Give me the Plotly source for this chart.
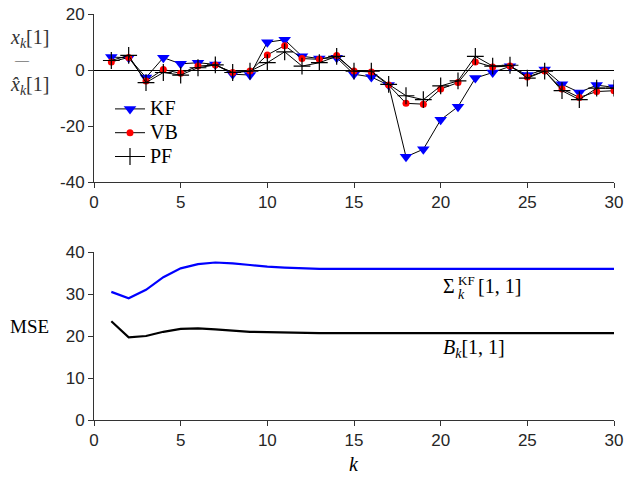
import plotly.graph_objects as go

k = list(range(1, 31))
kf = [4.6, 4.4, -2.7, 4.4, 2.2, 2.6, 2.0, -1.5, -1.8, 9.9, 10.8, 4.9, 4.1, 4.4, -1.5, -2.5, -5.4, -31.0, -28.3, -17.8, -13.1, -2.9, -0.9, 1.3, -1.8, 0.2, -5.1, -8.0, -5.4, -6.2]
vb = [2.9, 4.5, -3.9, 0.2, -1.2, 1.4, 1.8, -0.9, -0.4, 5.4, 8.7, 4.1, 3.8, 5.2, -0.4, -0.7, -5.4, -11.9, -12.2, -6.8, -4.5, 2.9, 1.1, 1.4, -2.5, -0.4, -6.8, -9.8, -7.7, -7.4]
pf = [3.4, 5.2, -4.5, -0.9, -1.8, 0.8, 1.8, -0.9, -0.4, 2.6, 6.5, 1.4, 2.6, 4.9, -0.4, -0.4, -5.1, -9.2, -10.6, -5.7, -3.9, 4.9, 1.4, 1.7, -2.9, -0.4, -7.4, -10.6, -6.5, -6.5]

sigma_kf = [30.5, 29.0, 31.0, 34.0, 36.1, 37.1, 37.5, 37.3, 36.9, 36.5, 36.3, 36.1, 36.0, 36.0, 36.0, 36.0, 36.0, 36.0, 36.0, 36.0, 36.0, 36.0, 36.0, 36.0, 36.0, 36.0, 36.0, 36.0, 36.0, 36.0]
b_k = [23.5, 19.7, 20.0, 21.0, 21.7, 21.8, 21.6, 21.3, 21.0, 20.9, 20.8, 20.7, 20.7, 20.7, 20.7, 20.7, 20.7, 20.7, 20.7, 20.7, 20.7, 20.7, 20.7, 20.7, 20.7, 20.7, 20.7, 20.7, 20.7, 20.7]

x_ticks = [0, 5, 10, 15, 20, 25, 30]
top_y_ticks = [-40, -20, 0, 20]
bot_y_ticks = [0, 10, 20, 30, 40]

W, H = 626, 478
def px(x):
    return x / W
def py(y):
    return 1 - y / H

def big(s):
    return '<span style="font-size:20px">' + s + '</span>'

fig = go.Figure()
fig.add_trace(go.Scatter(x=k, y=kf, name=big("KF"), mode="lines+markers",
                         line=dict(color="black", width=1),
                         marker=dict(symbol="triangle-down", size=11, color="#0000ff"),
                         xaxis="x", yaxis="y"))
fig.add_trace(go.Scatter(x=k, y=vb, name=big("VB"), mode="lines+markers",
                         line=dict(color="black", width=1),
                         marker=dict(symbol="circle", size=7, color="#ff0000"),
                         xaxis="x", yaxis="y"))
fig.add_trace(go.Scatter(x=k, y=pf, name=big("PF"), mode="lines+markers",
                         line=dict(color="black", width=1),
                         marker=dict(symbol="cross-thin", size=12, color="black",
                                     line=dict(color="black", width=1.2)),
                         xaxis="x", yaxis="y"))
fig.add_trace(go.Scatter(x=k, y=sigma_kf, mode="lines", showlegend=False,
                         line=dict(color="#0000ff", width=2.2), xaxis="x2", yaxis="y2"))
fig.add_trace(go.Scatter(x=k, y=b_k, mode="lines", showlegend=False,
                         line=dict(color="black", width=2.2), xaxis="x2", yaxis="y2"))

axis_common = dict(showline=True, linecolor="#333333", linewidth=1, ticks="outside",
                   ticklen=5, tickcolor="#333333", showgrid=False, automargin=False,
                   ticklabeloverflow="allow",
                   tickfont=dict(family="Liberation Sans, Arial", size=17, color="#262626"))

xdom = [px(94), px(614)]
fig.update_layout(
    width=W, height=H, margin=dict(l=0, r=0, t=0, b=0),
    paper_bgcolor="white", plot_bgcolor="white",
    xaxis=dict(domain=xdom, range=[0, 30], tickvals=x_ticks, anchor="y", **axis_common),
    yaxis=dict(domain=[py(182), py(14)], range=[-40, 20], tickvals=top_y_ticks,
               ticktext=[str(v) for v in top_y_ticks], anchor="x",
               zeroline=True, zerolinecolor="black", zerolinewidth=1, **axis_common),
    xaxis2=dict(domain=xdom, range=[0, 30], tickvals=x_ticks, anchor="y2", **axis_common),
    yaxis2=dict(domain=[py(420), py(252)], range=[0, 40], tickvals=bot_y_ticks,
                anchor="x2", zeroline=False, **axis_common),
    legend=dict(x=px(110), y=py(92), xanchor="left", yanchor="top",
                bgcolor="rgba(0,0,0,0)", tracegroupgap=0, itemwidth=30,
                font=dict(family="Liberation Serif, Times New Roman", size=16, color="black")),
    showlegend=True,
)

serif = "Liberation Serif, Times New Roman"
def ann(x, y, text, size=20, xanchor="center", color="black"):
    fig.add_annotation(x=px(x), y=py(y), xref="paper", yref="paper", text=text,
                       showarrow=False, xanchor=xanchor, yanchor="middle",
                       font=dict(family=serif, size=size, color=color))

# top y-label (stacked fraction-like)
ann(29, 38, "<i>x</i><sub><i>k</i></sub>[1]", color="#333333")
ann(22, 61, "—", size=14, color="#333333")
ann(29, 86, "<i>x̂</i><sub><i>k</i></sub>[1]", color="#333333")
# bottom y-label
ann(29, 326, "MSE", size=19)
# x-label
ann(354, 464, "<i>k</i>")
# series labels
ann(441, 286, "Σ", xanchor="left")
ann(456, 280, "KF", size=13, xanchor="left")
ann(456, 294, "<i>k</i>", size=14, xanchor="left")
ann(476, 286, "[1, 1]", xanchor="left")
ann(474, 348, "<i>B</i><sub><i>k</i></sub>[1, 1]")

fig.write_html("out.html", config={"displayModeBar": False},
               post_script="document.body.style.margin='0';document.body.style.overflow='hidden';")
